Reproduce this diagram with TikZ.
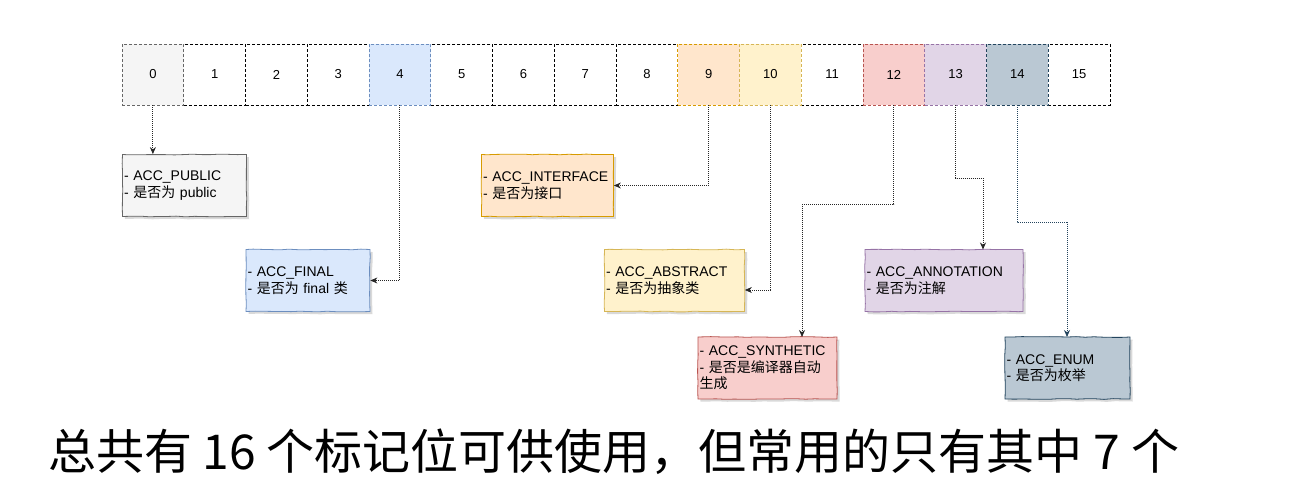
\documentclass[tikz,border=0pt]{standalone}
\usepackage{fontspec}
\setmainfont{Liberation Sans}
\newfontfamily\cjk{Noto Sans CJK SC}
\usetikzlibrary{arrows.meta,shadows,decorations.pathmorphing}
\definecolor{gF}{HTML}{F5F5F5}\definecolor{gB}{HTML}{666666}
\definecolor{bF}{HTML}{DAE8FC}\definecolor{bB}{HTML}{6C8EBF}
\definecolor{oF}{HTML}{FFE6CC}\definecolor{oB}{HTML}{D79B00}
\definecolor{yF}{HTML}{FFF2CC}\definecolor{yB}{HTML}{D6B656}
\definecolor{rF}{HTML}{F8CECC}\definecolor{rB}{HTML}{B85450}
\definecolor{pF}{HTML}{E1D5E7}\definecolor{pB}{HTML}{9673A6}
\definecolor{sF}{HTML}{BAC8D3}\definecolor{sB}{HTML}{23445D}
\tikzset{
  cell/.style={draw=black, dash pattern=on 3pt off 2pt, line width=0.8pt, fill=white, minimum width=61.75pt, minimum height=61pt, inner sep=0pt, font=\fontsize{13}{15}\selectfont},
  info/.style={draw, line width=0.8pt, inner sep=1.5pt, align=left, font=\fontsize{14}{16.5}\selectfont,
     drop shadow={shadow xshift=2.5pt, shadow yshift=-2.5pt, opacity=0.3},
     decorate, decoration={random steps, segment length=9pt, amplitude=0.4pt}},
  conn/.style={draw=black!85, dash pattern=on 1pt off 1pt, line width=0.8pt, -{Stealth[length=7pt,width=6pt]}},
}
\begin{document}
\begin{tikzpicture}[x=1pt,y=-1pt]
\useasboundingbox (0,0) rectangle (1293,492);
% cells
\foreach \i in {0,...,15}{
  \node[cell] (cell\i) at ({122+61.75*(\i+0.5)},74.5) {\i};
}
\node[cell, fill=gF, draw=gB] (cell0) at ({122+61.75*0.5},74.5) {0};
\node[cell, fill=bF, draw=bB] (cell4) at ({122+61.75*4.5},74.5) {4};
\node[cell, fill=oF, draw=oB] (cell9) at ({122+61.75*9.5},74.5) {9};
\node[cell, fill=yF, draw=yB] (cell10) at ({122+61.75*10.5},74.5) {10};
\node[cell, fill=rF, draw=rB] (cell12) at ({122+61.75*12.5},74.5) {12};
\node[cell, fill=pF, draw=pB] (cell13) at ({122+61.75*13.5},74.5) {13};
\node[cell, fill=sF, draw=sB] (cell14) at ({122+61.75*14.5},74.5) {14};
% info boxes
\node[info, fill=gF, draw=gB, minimum width=124pt, minimum height=62pt, text width=121pt] (public) at (184.5,185.5)
  {- ACC\_PUBLIC\\- {\cjk 是否为} public};
\node[info, fill=bF, draw=bB, minimum width=124pt, minimum height=62pt, text width=121pt] (final) at (308,280.5)
  {- ACC\_FINAL\\- {\cjk 是否为} final {\cjk 类}};
\node[info, fill=oF, draw=oB, minimum width=132pt, minimum height=62pt, text width=129pt] (interface) at (547.5,185.5)
  {- ACC\_INTERFACE\\- {\cjk 是否为接口}};
\node[info, fill=yF, draw=yB, minimum width=140pt, minimum height=62pt, text width=137pt] (abstract) at (674.5,280.5)
  {- ACC\_ABSTRACT\\- {\cjk 是否为抽象类}};
\node[info, fill=rF, draw=rB, minimum width=139pt, minimum height=62pt, text width=136pt] (synth) at (767.5,368)
  {- ACC\_SYNTHETIC\\- {\cjk 是否是编译器自动}\\{\cjk 生成}};
\node[info, fill=pF, draw=pB, minimum width=158pt, minimum height=62pt, text width=155pt] (annot) at (944,280.5)
  {- ACC\_ANNOTATION\\- {\cjk 是否为注解}};
\node[info, fill=sF, draw=sB, minimum width=125pt, minimum height=62pt, text width=122pt] (enum) at (1067.5,368)
  {- ACC\_ENUM\\- {\cjk 是否为枚举}};
% connector end points
\coordinate (e10) at (abstract.east |- 0,290);
\coordinate (s12) at (802,337);
\coordinate (s13) at (983,249.5);
\coordinate (s14) at (1067,337);
% connectors
\draw[conn] (cell0.south) -- (cell0.south |- public.north);
\draw[conn] (cell4.south) |- (final.east);
\draw[conn] (cell9.south) |- (interface.east);
\draw[conn] (cell10.south) |- (e10);
\draw[conn] (cell12.south) -- ++(0,99) -| (s12);
\draw[conn] (cell13.south) -- ++(0,73) -| (s13);
\draw[conn, draw=sB] (cell14.south) -- ++(0,117) -| (s14);
% caption
\node[anchor=west, inner sep=0pt, font=\cjk\fontsize{48}{50}\selectfont] (caption) at (48,452)
  {总共有 16 个标记位可供使用，但常用的只有其中 7 个};
\end{tikzpicture}
\end{document}
